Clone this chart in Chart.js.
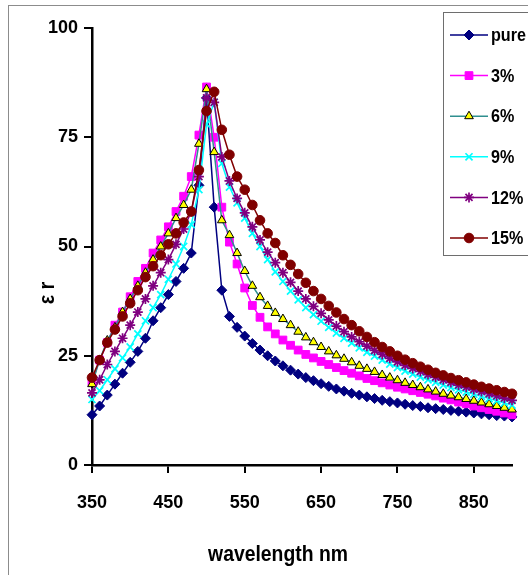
<!DOCTYPE html>
<html>
<head>
<meta charset="utf-8">
<script src="https://cdn.jsdelivr.net/npm/chart.js@4.4.1/dist/chart.umd.min.js"></script>
<style>
  html, body { margin:0; padding:0; background:#fff; }
  #wrap { position:relative; width:528px; height:575px; overflow:hidden; }
  #frame { position:absolute; left:8px; top:5px; width:600px; height:700px; border:1.5px solid #8c8c8c; }
  canvas { position:absolute; left:0; top:0; }
</style>
</head>
<body>
<div id="wrap"><div id="frame"></div><canvas id="chart" width="528" height="575"></canvas></div>
<script>
/* ===== dielectric constant vs wavelength ===== */

const wavelengths = [350,360,370,380,390,400,410,420,430,440,450,460,470,480,490,500,510,520,530,540,
  550,560,570,580,590,600,610,620,630,640,650,660,670,680,690,700,710,720,730,740,
  750,760,770,780,790,800,810,820,830,840,850,860,870,880,890,900];

const pure = [11.5,13.5,16,18.5,21,23.5,26,29,33,36,39,42,45,48.5,64,84,59,40,34,31.5,
  29.5,27.8,26.3,25,23.8,22.7,21.7,20.8,20,19.3,18.6,18,17.4,16.9,16.4,16,15.6,15.2,14.8,14.5,
  14.2,13.9,13.6,13.4,13.1,12.9,12.7,12.5,12.3,12.1,11.9,11.7,11.5,11.3,11.2,11];

const pct3 = [19,24,28,32,35,38.5,42,45,48.5,51.5,54.5,58,61.5,66,75.5,86.5,75,59,51,46,
  40.5,36.5,33.8,31.6,30,28.6,27.4,26.3,25.3,24.5,23.7,23,22.3,21.6,21,20.4,19.8,19.3,18.8,18.3,
  17.8,17.4,17,16.6,16.2,15.8,15.3,14.9,14.4,14,13.5,13.1,12.7,12.3,11.9,11.5];

const pct6 = [18.5,24,28.5,31.5,35,38,41,44,47,50,53,56.5,59.5,63,73.5,86,71.6,56,52.6,48.5,
  44.4,41,38.4,36.4,34.8,33.4,32,30.5,29.2,28.1,27,26,25.1,24.3,23.5,22.7,22,21.3,20.6,20,
  19.4,18.8,18.3,17.8,17.3,16.8,16.3,15.9,15.5,15.1,14.7,14.3,13.9,13.5,13.1,12.7];

const pct9 = [15,17,19.5,22,24.5,27,30,33,36,39,42.5,46,50,55,63,78,83,69,63.6,60,
  56.5,53,50,47,44.2,42,39.8,37.8,36,34.4,32.9,31.5,30.2,29,27.9,26.8,25.8,24.9,24,23.1,
  22.3,21.5,20.8,20.1,19.5,18.9,18.3,17.7,17.2,16.7,16.2,15.7,15.2,14.7,14.2,13.7];

const pct12 = [16.5,19.5,23,26,29,32,35,38,41,44,47,50.5,54,58,66,84,83,70.5,65,61,
  57.7,54.5,51.5,48.7,46.3,44,41.8,39.8,38,36.3,34.7,33.2,31.8,30.5,29.3,28.2,27.2,26.2,25.3,24.4,
  23.6,22.8,22.1,21.4,20.7,20.1,19.5,18.9,18.3,17.8,17.3,16.8,16.3,15.8,15.3,14.8];

const pct15 = [20,24,28,31,34,37,40,43,45.5,48,50.5,53,55.5,58,67.5,81,85.4,76.7,71,66,
  63,59.5,56,53,50.8,48,45.8,43.7,41.7,39.8,38,36.4,34.9,33.4,32,30.6,29.3,28.1,27,26,
  25,24.1,23.3,22.5,21.8,21.1,20.5,19.9,19.4,18.9,18.4,17.9,17.5,17.1,16.7,16.3];

const seriesLabels = ['pure', '3%', '6%', '9%', '12%', '15%'];
const xTicks = [350, 450, 550, 650, 750, 850];
const yTicks = [0, 25, 50, 75, 100];

const FONT = "'Liberation Sans Narrow', 'Arial Narrow', 'Liberation Sans', Arial, sans-serif";

// ── dataset builder ──
function makeSet(idx, values, line, style, fill, border, radius) {
  return {
    label: seriesLabels[idx],
    data: wavelengths.map((w, i) => ({ x: w, y: values[i] })),
    borderColor: line, borderWidth: 1.5, tension: 0,
    pointStyle: style, pointRadius: radius,
    pointBackgroundColor: fill, pointBorderColor: border, pointBorderWidth: 1,
    order: 5 - idx, clip: false,
  };
}

const datasets = [
  makeSet(0, pure,  '#000080', 'rectRot',  '#000080', '#000080', 5),
  makeSet(1, pct3,  '#ff00ff', 'rect',     '#ff00ff', '#ff00ff', 5.5),
  makeSet(2, pct6,  '#2f8f8f', 'triangle', '#ffff00', '#000000', 5),
  makeSet(3, pct9,  '#00ffff', 'crossRot', '#00ffff', '#00ffff', 5),
  makeSet(4, pct12, '#800080', 'star',     '#800080', '#800080', 5),
  makeSet(5, pct15, '#800000', 'circle',   '#800000', '#800000', 4.8),
];
datasets[3].pointBorderWidth = 1.7;
datasets[4].pointBorderWidth = 1.7;

// narrow look for the hand-drawn texts
function narrowText(ctx, text, x, y, align, sx) {
  ctx.save();
  ctx.translate(x, y);
  ctx.scale(sx, 1);
  ctx.textAlign = align;
  ctx.fillText(text, 0, 0);
  ctx.restore();
}

// ── titles + legend drawn on the canvas ──
const extras = {
  id: 'extras',
  afterDraw(chart) {
    const ctx = chart.ctx;
    ctx.save();
    ctx.fillStyle = '#000';
    ctx.textBaseline = 'middle';

    ctx.save();
    ctx.translate(48, 293);
    ctx.rotate(-Math.PI / 2);
    ctx.font = `bold 22px ${FONT}`;
    narrowText(ctx, 'ε r', 0, 0, 'center', 0.9);
    ctx.restore();

    ctx.font = `bold 22px ${FONT}`;
    narrowText(ctx, 'wavelength nm', 278, 555, 'center', 0.88);

    // legend box
    ctx.fillStyle = '#fff';
    ctx.fillRect(443, 12, 120, 243);
    ctx.strokeStyle = '#6e6e6e';
    ctx.lineWidth = 1;
    ctx.strokeRect(443.5, 12.5, 120, 243);

    chart.data.datasets.forEach((ds, i) => {
      const y = 35 + i * 40.6;
      ctx.strokeStyle = ds.borderColor;
      ctx.lineWidth = ds.borderWidth;
      ctx.beginPath(); ctx.moveTo(450, y); ctx.lineTo(488, y); ctx.stroke();
      ctx.fillStyle = ds.pointBackgroundColor;
      ctx.strokeStyle = ds.pointBorderColor;
      ctx.lineWidth = ds.pointBorderWidth;
      Chart.helpers.drawPoint(ctx, { pointStyle: ds.pointStyle, radius: ds.pointRadius, rotation: 0, borderWidth: ds.pointBorderWidth }, 469, y);
      ctx.fillStyle = '#000';
      ctx.font = `bold 19px ${FONT}`;
      narrowText(ctx, ds.label, 491, y + 1, 'left', 0.85);
    });
    ctx.restore();
  }
};

new Chart(document.getElementById('chart').getContext('2d'), {
  type: 'line',
  data: { datasets },
  options: {
    responsive: false,
    animation: false,
    layout: { padding: { top: 28, right: 16, left: 0, bottom: 0 }, autoPadding: false },
    plugins: { legend: { display: false }, tooltip: { enabled: false } },
    scales: {
      x: {
        type: 'linear', min: 350, max: 900,
        afterBuildTicks: s => { s.ticks = xTicks.map(v => ({ value: v })); },
        afterFit: s => { s.height = 110; },
        border: { color: '#000', width: 2.5 },
        grid: { drawOnChartArea: false, drawTicks: true, tickLength: 8, color: '#000', lineWidth: 2 },
        ticks: { color: '#000', padding: 19, maxRotation: 0, font: { family: FONT, size: 18, weight: 'bold' } },
      },
      y: {
        min: 0, max: 100,
        afterBuildTicks: s => { s.ticks = yTicks.map(v => ({ value: v })); },
        afterFit: s => { s.width = 92; },
        border: { color: '#000', width: 2.5 },
        grid: { drawOnChartArea: false, drawTicks: true, tickLength: 8, color: '#000', lineWidth: 2 },
        ticks: { color: '#000', padding: 6, font: { family: FONT, size: 18, weight: 'bold' } },
      }
    }
  },
  plugins: [extras]
});
</script>
</body>
</html>
